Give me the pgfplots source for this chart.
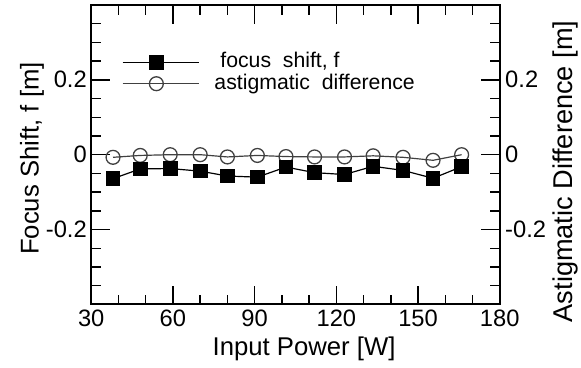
\documentclass[border=0pt]{standalone}
\usepackage{pgfplots}
\pgfplotsset{compat=1.18}
\usepackage{fontspec}
\setmainfont{Liberation Sans}
\begin{document}
\begin{tikzpicture}
\pgfplotsset{
  common/.style={
    scale only axis, width=412bp, height=302bp,
    xmin=30, xmax=180, ymin=-0.4, ymax=0.4,
    axis line style={line width=2bp},
    tick align=inside,
    major tick length=19bp, minor tick length=10bp,
    every tick/.style={line width=1.5bp, black},
    minor tick style={line width=1.5bp, black},
    tick label style={font=\fontsize{24}{26}\selectfont},
    label style={font=\fontsize{26}{28}\selectfont},
    /pgf/number format/assume math mode=true,
    ytick={-0.2,0,0.2}, yticklabels={-0.2,0,0.2},
    minor ytick={-0.35,-0.3,-0.25,-0.15,-0.1,-0.05,0.05,0.1,0.15,0.25,0.3,0.35},
  },
}
\begin{axis}[common,
  xtick={30,60,90,120,150,180},
  minor xtick={40,50,70,80,100,110,130,140,160,170},
  xtick pos=both, ytick pos=both,
  yticklabel pos=left,
  yticklabel style={xshift=-1bp},
  xticklabel style={yshift=-2bp},
  xlabel={Input Power [W]},
  xlabel style={at={(axis description cs:0.521,-0.172)}, anchor=base},
  ylabel={Focus Shift, f [m]},
  ylabel style={at={(axis description cs:-0.129,0.487)}, anchor=base},
  reverse legend,
  legend style={draw=none, fill=none, inner sep=0pt, at={(axis description cs:0.075,0.842)}, anchor=north west,
    font=\fontsize{21.5}{22}\selectfont, row sep=1.5bp, column sep=15bp,
    nodes={inner sep=0pt, text height=15.5bp, text depth=4.5bp}},
  legend cell align=left,
  legend image code/.code={\draw[#1,mark repeat=2,mark phase=2] plot coordinates {(0bp,0bp) (34bp,0bp) (77bp,0bp)};},
]
\addplot[color=black!75, line width=1.2bp, mark=o, mark size=7bp, mark options={fill=white, line width=1.3bp, draw=black!75}]
  coordinates {(38,-0.007) (48,-0.002) (59,0) (70,0) (80,-0.006) (91,-0.002) (101.5,-0.005) (112,-0.006) (123,-0.006) (133.5,-0.003) (144.5,-0.007) (155.5,-0.015) (166,0)};
\addlegendentry{astigmatic\ \ difference}
\addplot[color=black, line width=1.2bp, mark=square*, mark size=6.8bp, mark options={fill=black}]
  coordinates {(38,-0.064) (48,-0.038) (59,-0.037) (70,-0.044) (80,-0.057) (91,-0.060) (101.5,-0.033) (112,-0.048) (123,-0.053) (133.5,-0.031) (144.5,-0.042) (155.5,-0.063) (166,-0.032)};
\addlegendentry{\ focus\ \ shift,\ f}
\end{axis}
\begin{axis}[common,
  axis x line=none, axis y line*=right,
  yticklabel pos=right,
  yticklabel style={xshift=2bp},
  ylabel={Astigmatic Difference [m]},
  ylabel style={at={(axis description cs:1.177,0.444)}, anchor=base, font=\fontsize{27.5}{28}\selectfont},
]
\end{axis}
\path[use as bounding box] (-92bp,-64bp) rectangle (489bp,307bp);
\end{tikzpicture}
\end{document}
